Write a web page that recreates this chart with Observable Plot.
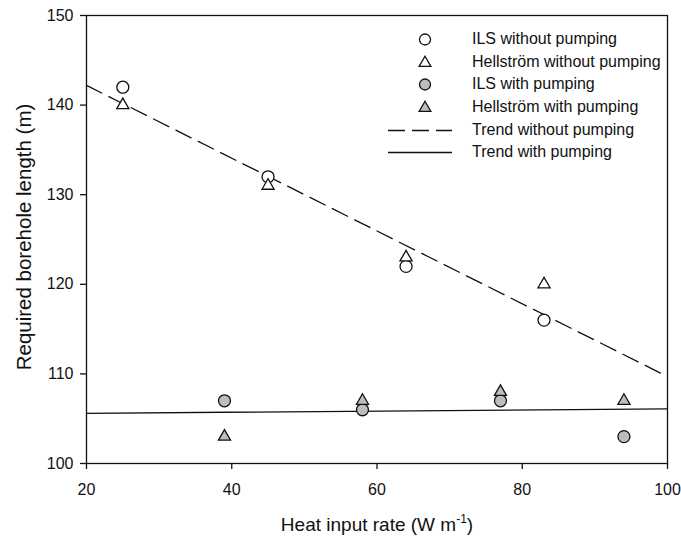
<!DOCTYPE html>
<html>
<head>
<meta charset="utf-8">
<script src="https://cdn.jsdelivr.net/npm/d3@7"></script>
<script src="https://cdn.jsdelivr.net/npm/@observablehq/plot@0.6"></script>
<style>
  html, body { margin: 0; padding: 0; background: #fff; }
  #wrap { position: relative; width: 681px; height: 547px; font-family: Arial, "Liberation Sans", sans-serif; color: #111; }
  .lab { position: absolute; white-space: nowrap; }
  #legend { position: absolute; left: 380px; top: 28px; font-size: 16px; }
  #legend .row { position: relative; height: 22.7px; line-height: 22.7px; }
  #legend svg { position: absolute; left: 0; top: 0; }
  #legend span { position: absolute; left: 92px; white-space: nowrap; }
</style>
</head>
<body>
<div id="wrap"></div>
<script>
// Data
const heatWithout = [25, 45, 64, 83];
const ilsWithout = [142, 132, 122, 116];
const hellWithout = [140, 131, 123, 120];

const heatWith = [39, 58, 77, 94];
const ilsWith = [107, 106, 107, 103];
const hellWith = [103, 107, 108, 107];

const trendX = [20, 100];
const trendWithout = [142.2, 109.7];
const trendWith = [105.6, 106.1];

const xTicks = [20, 40, 60, 80, 100];
const yTicks = [100, 110, 120, 130, 140, 150];

const toRows = (xs, ys) => xs.map((x, i) => ({x, y: ys[i]}));

const plot = Plot.plot({
  width: 681,
  height: 547,
  marginLeft: 86,
  marginRight: 14,
  marginTop: 15,
  marginBottom: 84,
  style: {fontFamily: "Arial, 'Liberation Sans', sans-serif", fontSize: "16px", color: "#111", background: "white"},
  x: {domain: [20, 100], ticks: xTicks, label: null},
  y: {domain: [100, 150], ticks: yTicks, label: null},
  marks: [
    Plot.frame({stroke: "#111", strokeWidth: 1.3}),
    Plot.axisX({ticks: xTicks, tickSize: 6, tickPadding: 14, fontSize: 16, label: null, stroke: "#111", strokeWidth: 1.3}),
    Plot.axisY({ticks: yTicks, tickSize: 6, tickPadding: 7, fontSize: 16, label: null, stroke: "#111", strokeWidth: 1.3}),
    Plot.line(toRows(trendX, trendWithout), {x: "x", y: "y", stroke: "#111", strokeWidth: 1.3, strokeDasharray: "17,8"}),
    Plot.line(toRows(trendX, trendWith), {x: "x", y: "y", stroke: "#111", strokeWidth: 1.3}),
    Plot.dot(toRows(heatWithout, ilsWithout), {x: "x", y: "y", r: 6, symbol: "circle", stroke: "#111", fill: "white", strokeWidth: 1.3}),
    Plot.dot(toRows(heatWithout, hellWithout), {x: "x", y: "y", r: 4.5, symbol: "triangle", stroke: "#111", fill: "white", strokeWidth: 1.3}),
    Plot.dot(toRows(heatWith, ilsWith), {x: "x", y: "y", r: 6, symbol: "circle", stroke: "#111", fill: "#bdbdbd", strokeWidth: 1.3}),
    Plot.dot(toRows(heatWith, hellWith), {x: "x", y: "y", r: 4.5, symbol: "triangle", stroke: "#111", fill: "#bdbdbd", strokeWidth: 1.3})
  ]
});

const wrap = document.getElementById("wrap");
wrap.appendChild(plot);

// axis labels
const yl = document.createElement("div");
yl.className = "lab";
yl.style.fontSize = "20.5px";
yl.textContent = "Required borehole length (m)";
yl.style.left = "24px";
yl.style.top = "237px";
yl.style.transform = "translate(-50%, -50%) rotate(-90deg)";
wrap.appendChild(yl);

const xl = document.createElement("div");
xl.className = "lab";
xl.style.fontSize = "19px";
xl.innerHTML = "Heat input rate (W m<sup style='font-size:12px;vertical-align:8px;line-height:0'>-1</sup>)";
xl.style.left = "377px";
xl.style.top = "525px";
xl.style.transform = "translate(-50%, -50%)";
wrap.appendChild(xl);

// legend
const legendItems = [
  {label: "ILS without pumping", kind: "circle", fill: "white"},
  {label: "Hellstr\u00f6m without pumping", kind: "triangle", fill: "white"},
  {label: "ILS with pumping", kind: "circle", fill: "#bdbdbd"},
  {label: "Hellstr\u00f6m with pumping", kind: "triangle", fill: "#bdbdbd"},
  {label: "Trend without pumping", kind: "dash"},
  {label: "Trend with pumping", kind: "solid"}
];
const leg = document.createElement("div");
leg.id = "legend";
for (const it of legendItems) {
  const row = document.createElement("div");
  row.className = "row";
  const svg = d3.create("svg").attr("width", 80).attr("height", 22.7);
  if (it.kind === "circle") {
    svg.append("circle").attr("cx", 45).attr("cy", 11.5).attr("r", 5.5).attr("fill", it.fill).attr("stroke", "#111").attr("stroke-width", 1.3);
  } else if (it.kind === "triangle") {
    svg.append("path").attr("transform", "translate(45,12)").attr("d", d3.symbol(d3.symbolTriangle, 60)()).attr("fill", it.fill).attr("stroke", "#111").attr("stroke-width", 1.3);
  } else {
    svg.append("line").attr("x1", 8).attr("x2", 72).attr("y1", 11.5).attr("y2", 11.5).attr("stroke", "#111").attr("stroke-width", 1.3)
      .attr("stroke-dasharray", it.kind === "dash" ? "17,7" : null);
  }
  row.appendChild(svg.node());
  const sp = document.createElement("span");
  sp.textContent = it.label;
  row.appendChild(sp);
  leg.appendChild(row);
}
wrap.appendChild(leg);
</script>
</body>
</html>
